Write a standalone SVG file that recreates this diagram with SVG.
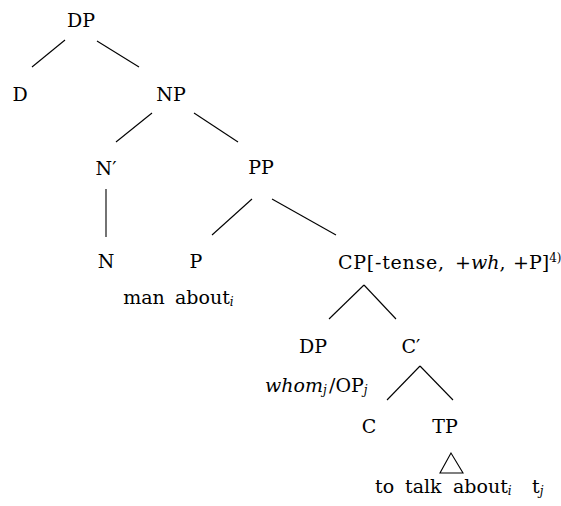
<svg xmlns="http://www.w3.org/2000/svg" width="561" height="506" viewBox="0 0 561 506">
  <style>
    .lbl { font-family: "DejaVu Serif", serif; font-size: 19px; fill: #000; }
    .n { text-anchor: middle; }
    .it { font-style: italic; }
    .sub { font-size: 12px; font-style: italic; }
    .sup { font-size: 12px; }
    .edge { stroke: #000; stroke-width: 1.1; fill: none; }
  </style>
  <rect width="561" height="506" fill="#fff"/>

  <!-- tree branches -->
  <g id="connectors">
    <line class="edge" x1="65" y1="40" x2="32" y2="67"/>
    <line class="edge" x1="97" y1="41" x2="139" y2="67"/>
    <line class="edge" x1="152" y1="113" x2="116" y2="142"/>
    <line class="edge" x1="194" y1="113" x2="238" y2="142"/>
    <line class="edge" x1="106" y1="189" x2="106" y2="237"/>
    <line class="edge" x1="252" y1="199" x2="212" y2="235"/>
    <line class="edge" x1="272" y1="199" x2="336" y2="235"/>
    <line class="edge" x1="364" y1="285" x2="329" y2="319"/>
    <line class="edge" x1="364" y1="285" x2="396" y2="319"/>
    <line class="edge" x1="420" y1="366" x2="387" y2="400"/>
    <line class="edge" x1="420" y1="366" x2="453" y2="400"/>
    <polygon class="edge" points="451,453 440,473 463,473"/>
  </g>

  <g class="lbl">
    <g id="dp-top"><text class="n" x="81" y="27">DP</text></g>
    <g id="d"><text class="n" x="20" y="101">D</text></g>
    <g id="np"><text class="n" x="171" y="101">NP</text></g>
    <g id="nbar"><text class="n" x="106" y="175">N′</text></g>
    <g id="pp"><text class="n" x="261" y="174">PP</text></g>
    <g id="n"><text class="n" x="106" y="268">N</text></g>
    <g id="p"><text class="n" x="196" y="268">P</text></g>
    <g id="cp">
      <text x="338" y="269"><tspan textLength="106">CP[-tense,</tspan><tspan x="455">+</tspan><tspan class="it">wh</tspan>,<tspan x="513">+P]</tspan><tspan class="sup" dy="-7">4)</tspan></text>
    </g>
    <g id="man"><text class="n" x="144" y="304">man</text></g>
    <g id="about"><text x="175" y="304">about<tspan class="sub" dy="2">i</tspan></text></g>
    <g id="dp-spec"><text class="n" x="313" y="353">DP</text></g>
    <g id="cbar"><text class="n" x="411" y="353">C′</text></g>
    <g id="whom"><text x="265" y="392"><tspan class="it">whom</tspan><tspan class="sub" dy="2">j</tspan><tspan x="329" dy="-2">/OP</tspan><tspan class="sub" dy="2">j</tspan></text></g>
    <g id="c"><text class="n" x="369" y="433">C</text></g>
    <g id="tp"><text class="n" x="445" y="433">TP</text></g>
    <g id="tp-yield"><text x="375" y="493">to<tspan x="405">talk</tspan><tspan x="453">about</tspan><tspan class="sub" dy="2">i</tspan><tspan x="532" dy="-2">t</tspan><tspan class="sub" dy="2">j</tspan></text></g>
  </g>
</svg>
